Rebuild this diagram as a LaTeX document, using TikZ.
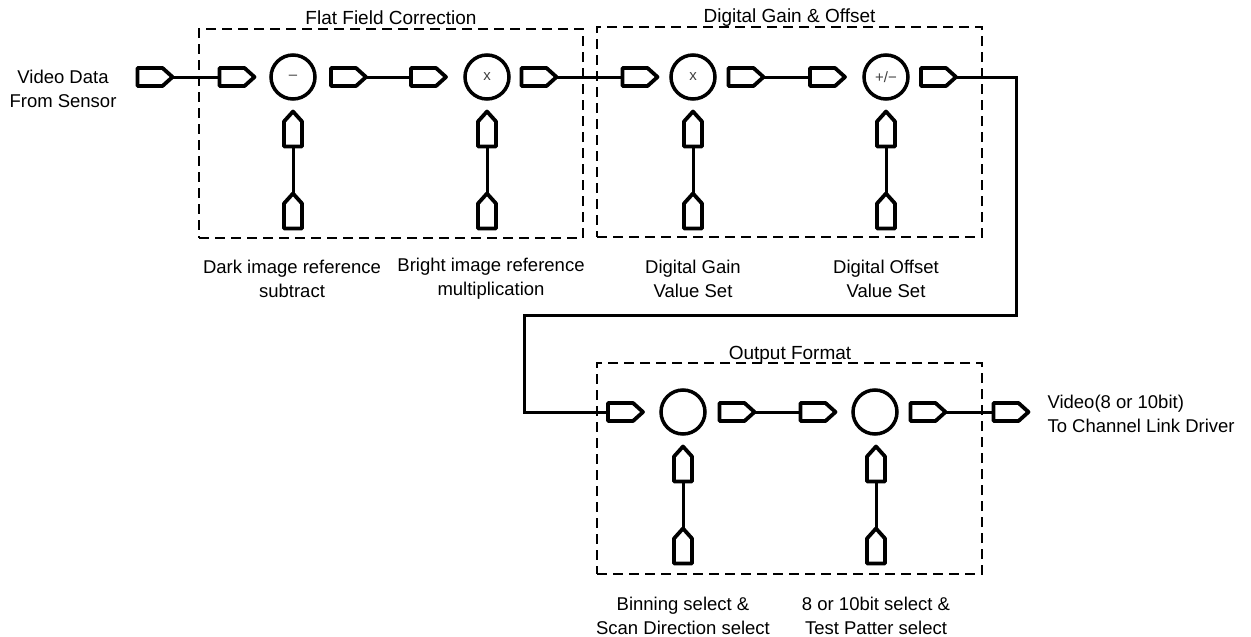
\documentclass[tikz,border=0pt]{standalone}
\usepackage{fontspec}
\setmainfont{Liberation Sans}
\usetikzlibrary{calc}
\newcommand\myhport[1]{\draw[pent] (#1.south west) -- (#1.north west) -- ($(#1.north east)+(-10,0)$) -- (#1.east) -- ($(#1.south east)+(-10,0)$) -- cycle;}
\newcommand\myvport[1]{\draw[pent] (#1.south west) -- (#1.south east) -- ($(#1.north east)+(0,10)$) -- (#1.north) -- ($(#1.north west)+(0,10)$) -- cycle;}
\begin{document}
\begin{tikzpicture}[x=1pt,y=-1pt,
 port/.style={rectangle, minimum width=35pt, minimum height=18pt, inner sep=0pt, outer sep=0pt},
 vport/.style={rectangle, minimum width=18pt, minimum height=35pt, inner sep=0pt, outer sep=0pt},
 pent/.style={line width=3.8pt, line join=round},
 op/.style={draw, circle, line width=3.5pt, minimum size=44pt, inner sep=0pt, font=\fontsize{15}{15}\selectfont, text=black!75},
 wire/.style={line width=3pt},
 group/.style={draw, dash pattern=on 10pt off 6pt, line width=1.2pt, inner sep=0pt},
 lbl/.style={align=center, font=\fontsize{18.5}{24}\selectfont},
 ttl/.style={font=\fontsize{19}{24}\selectfont, anchor=base},
]
\useasboundingbox (0,0) rectangle (1251,637);

% group boxes
\node[group, minimum width=384pt, minimum height=209pt] (B1) at (391,133.5) {};
\node[group, minimum width=385pt, minimum height=210pt] (B2) at (789.5,132) {};
\node[group, minimum width=385pt, minimum height=211pt] (B3) at (789.5,468.5) {};
\node[ttl] (T1) at (391,24) {Flat Field Correction};
\node[ttl] (T2) at (789.5,23) {Digital Gain \& Offset};
\node[ttl] (T3) at (790,359) {Output Format};

% row 1
\node[port] (p0) at (155,77) {};
\node[port] (p1) at (237,77) {};
\node[op]   (c1) at (293,77) {–};
\node[port] (p2) at (348.5,77) {};
\node[port] (p3) at (428.5,77) {};
\node[op]   (c2) at (487,77) {x};
\node[port] (p4) at (539,77) {};
\node[port] (p5) at (640,77) {};
\node[op]   (c3) at (693,77) {x};
\node[port] (p6) at (746,77) {};
\node[port] (p7) at (827.5,77) {};
\node[op]   (c4) at (886,77) {+/−};
\node[port] (p8) at (938.5,77) {};

% row 2
\node[port] (q1) at (625.5,412) {};
\node[op]   (c5) at (683,412) {};
\node[port] (q2) at (737,412) {};
\node[port] (q3) at (818,412) {};
\node[op]   (c6) at (875,412) {};
\node[port] (q4) at (928,412) {};
\node[port] (q5) at (1011,412) {};

\foreach \n in {p0,p1,p2,p3,p4,p5,p6,p7,p8,q1,q2,q3,q4,q5}{\myhport{\n}}

\foreach \n/\x/\y in {1/293/77,2/487/77,3/693/77,4/886/77,5/683/412,6/876/412}{
  \node[vport] (u\n) at (\x,\y+52) {};
  \node[vport] (d\n) at (\x,\y+134) {};
  \myvport{u\n}
  \myvport{d\n}
  \draw[wire] (d\n.north) -- (u\n.south);
}

% wires
\draw[wire] (p0.east) -- (p1.west);
\draw[wire] (p2.east) -- (p3.west);
\draw[wire] (p4.east) -- (p5.west);
\draw[wire] (p6.east) -- (p7.west);
\coordinate (k1) at (1016,77);
\coordinate (k2) at (1016,315);
\coordinate (k3) at (524,315);
\coordinate (k4) at (524,412);
\draw[wire] (p8.east) -- (k1) -- (k2) -- (k3) -- (k4) -- (q1.west);
\draw[wire] (q2.east) -- (q3.west);
\draw[wire] (q4.east) -- (q5.west);

% labels
\node[lbl] (Lin) at (63,89) {Video Data\\From Sensor};
\node[lbl, align=left, anchor=west] (Lout) at (1044,414) {Video(8 or 10bit)\\To Channel Link Driver};
\node[lbl] (L1) at (292,279) {Dark image reference\\subtract};
\node[lbl] (L2) at (491,279) {Bright image reference\\multiplication};
\node[lbl] (L3) at (693,279) {Digital Gain\\Value Set};
\node[lbl] (L4) at (886,279) {Digital Offset\\Value Set};
\node[lbl] (L5) at (683,616) {Binning select \&\\Scan Direction select};
\node[lbl] (L6) at (876,616) {8 or 10bit select \&\\Test Patter select};
\end{tikzpicture}
\end{document}
